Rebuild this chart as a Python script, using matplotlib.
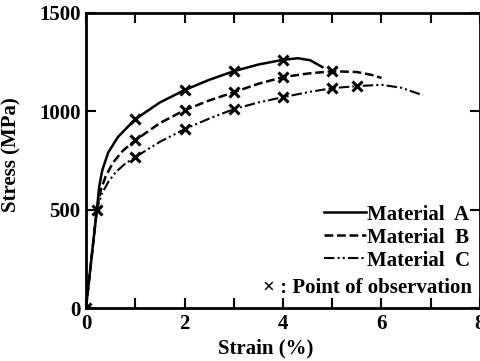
import matplotlib.pyplot as plt

# Stress-strain curves
strain_a = [0, 0.22, 0.27, 0.33, 0.45, 0.65, 1.0, 1.5, 2.0, 2.5, 3.0, 3.5, 4.0, 4.3, 4.55, 4.8]
stress_a = [0, 500, 620, 700, 790, 870, 960, 1045, 1108, 1160, 1204, 1238, 1262, 1270, 1260, 1225]

strain_b = [0, 0.22, 0.3, 0.4, 0.55, 0.75, 1.0, 1.5, 2.0, 2.5, 3.0, 3.5, 4.0, 4.5, 5.0, 5.5, 5.8, 6.0]
stress_b = [0, 500, 600, 670, 740, 800, 853, 940, 1006, 1055, 1097, 1140, 1174, 1192, 1204, 1200, 1185, 1170]

strain_c = [0, 0.22, 0.32, 0.45, 0.6, 0.8, 1.0, 1.5, 2.0, 2.5, 3.0, 3.5, 4.0, 4.5, 5.0, 5.5, 6.0, 6.4, 6.84]
stress_c = [0, 500, 580, 640, 690, 735, 767, 845, 909, 963, 1011, 1045, 1072, 1097, 1118, 1128, 1135, 1120, 1082]

# Points of observation
obs_strain = [0, 0.22, 1, 2, 3, 4, 1, 2, 3, 4, 5, 1, 2, 3, 4, 5, 5.5]
obs_stress = [0, 500, 960, 1108, 1204, 1262, 853, 1006, 1097, 1174, 1204, 767, 909, 1011, 1072, 1118, 1128]

plt.rcParams['font.family'] = 'Liberation Serif'
plt.rcParams['font.weight'] = 'bold'

fig = plt.figure(figsize=(4.81, 3.61), dpi=100)
ax = fig.add_axes([86 / 481, 53 / 361, 394 / 481, 295 / 361])

ax.plot(strain_a, stress_a, color='black', lw=1.8, ls='-', label='Material  A')
ax.plot(strain_b, stress_b, color='black', lw=1.8, ls=(0, (3.5, 1.5)), label='Material  B')
ax.plot(strain_c, stress_c, color='black', lw=1.5, ls=(0, (5, 1.5, 1, 1.5, 1, 1.5)), label='Material  C')
ax.plot(obs_strain, obs_stress, ls='none', marker='x', ms=7, mew=2.2, color='black')

ax.set_xlim(0, 8)
ax.set_ylim(0, 1500)
ax.set_xticks(range(9))
ax.set_xticklabels(['0', '', '2', '', '4', '', '6', '', '8'])
ax.set_yticks([0, 500, 1000, 1500])
ax.tick_params(direction='in', length=7, width=1.5, top=True, right=True, labelsize=15, pad=4)
for s in ax.spines.values():
    s.set_linewidth(2)

ax.set_xlabel('Strain (%)', fontsize=15, fontweight='bold')
ax.set_ylabel('Stress (MPa)', fontsize=15, fontweight='bold')
ax.xaxis.set_label_coords(0.457, -0.105)
ax.yaxis.set_label_coords(-0.165, 0.52)

leg = ax.legend(loc='lower right', bbox_to_anchor=(0.995, 0.098), frameon=False, fontsize=15,
                handlelength=2.0, handletextpad=0.05, labelspacing=0.15, borderaxespad=0.0)
ax.text(0.98, 0.035, '\u00d7 : Point of observation', transform=ax.transAxes,
        ha='right', va='bottom', fontsize=15, fontweight='bold')

plt.savefig('out.png', dpi=100)
